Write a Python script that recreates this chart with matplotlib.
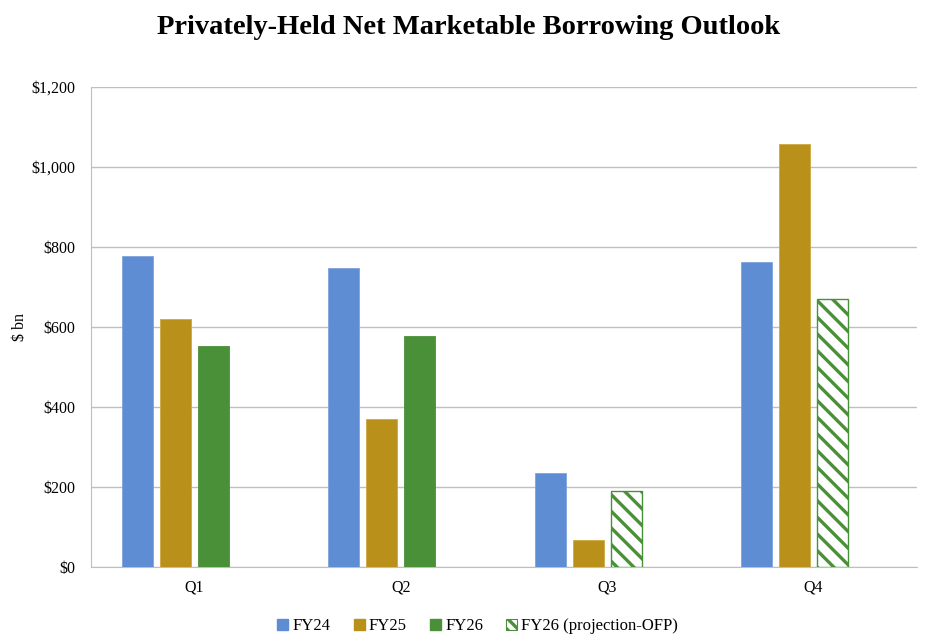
import numpy as np
import matplotlib
matplotlib.use("Agg")
import matplotlib.pyplot as plt
from matplotlib.patches import Patch

quarters = ["Q1", "Q2", "Q3", "Q4"]
fy24 = [778, 748, 236, 762]
fy25 = [620, 371, 67, 1058]
fy26 = [553, 578, np.nan, np.nan]
fy26_proj = [np.nan, np.nan, 189, 671]

c24 = "#5f8dd3"
c25 = "#b8901a"
c26 = "#4a9038"

plt.rcParams["font.family"] = ["Liberation Serif", "DejaVu Serif"]
plt.rcParams["hatch.linewidth"] = 2.4

fig = plt.figure(figsize=(9.28, 6.43), dpi=100)
ax = fig.add_axes([0.098, 0.118, 0.890, 0.747])

x = np.arange(len(quarters))
step = 0.183
w = 0.15

ax.bar(x - 1.5 * step, fy24, w, color=c24, edgecolor="#7fa3dc", linewidth=0.6, zorder=3)
ax.bar(x - 0.5 * step, fy25, w, color=c25, edgecolor="#cfa940", linewidth=0.6, zorder=3)
ax.bar(x + 0.5 * step, fy26, w, color=c26, edgecolor=c26, linewidth=0.6, zorder=3)
ax.bar(x + 0.5 * step, fy26_proj, w, color="white", edgecolor=c26,
       hatch="\\\\", linewidth=1.0, zorder=3)

ax.set_xlim(-0.5, 3.5)
ax.set_ylim(0, 1200)
ax.set_yticks(np.arange(0, 1201, 200))
ax.set_yticklabels(["$" + format(v, ",") for v in range(0, 1201, 200)])
ax.set_xticks(x)
ax.set_xticklabels(quarters)
ax.tick_params(axis="y", length=0, labelsize=11.5, pad=11)
ax.tick_params(axis="x", length=0, labelsize=11.5, pad=9)
ax.grid(axis="y", color="#bfbfbf", linewidth=1.0, zorder=0)
for s in ["top", "right"]:
    ax.spines[s].set_visible(False)
ax.spines["left"].set_color("#bfbfbf")
ax.spines["bottom"].set_color("#bfbfbf")

ax.set_ylabel("$ bn", fontsize=11.5)
ax.yaxis.set_label_coords(-0.076, 0.5)

fig.text(0.505, 0.958, "Privately-Held Net Marketable Borrowing Outlook",
         ha="center", va="center", fontsize=20.5, fontweight="bold")

handles = [
    Patch(facecolor=c24, edgecolor=c24),
    Patch(facecolor=c25, edgecolor=c25),
    Patch(facecolor=c26, edgecolor=c26),
    Patch(facecolor="white", edgecolor=c26, hatch="\\\\\\", linewidth=0.8),
]
fig.legend(handles, ["FY24", "FY25", "FY26", "FY26 (projection-OFP)"],
           loc="center", bbox_to_anchor=(0.515, 0.026), ncol=4, frameon=False,
           fontsize=12, handlelength=0.65, handleheight=0.65, handletextpad=0.25,
           columnspacing=1.4)

fig.savefig("out.png", dpi=100)
